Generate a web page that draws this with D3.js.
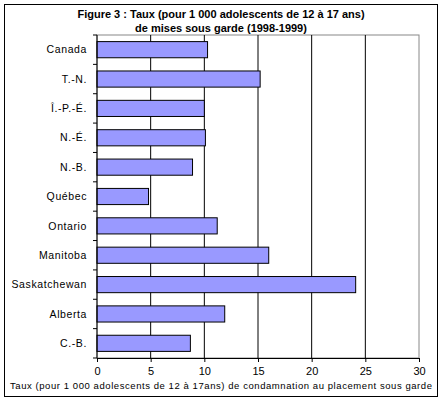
<!DOCTYPE html><html><head><meta charset="utf-8"><script src="https://cdn.jsdelivr.net/npm/d3@7"></script>
<style>body{margin:0;background:#fff}text{font-family:"Liberation Sans",Arial,sans-serif}</style></head><body><svg id="c" width="442" height="401"></svg><script>
const categories=["Canada","T.-N.","Î.-P.-É.","N.-É.","N.-B.","Québec","Ontario","Manitoba","Saskatchewan","Alberta","C.-B."];
const values=[10.3,15.2,10.0,10.1,8.9,4.8,11.2,16.0,24.1,11.9,8.7];
const xTicks=[0,5,10,15,20,25,30];
const svg=d3.select("#c");
svg.append("rect").attr("x",4.5).attr("y",4.5).attr("width",433).attr("height",392).attr("fill","#fff").attr("stroke","#000");
const L=97,R=419,T=35,B=358;
const x=d3.scaleLinear().domain([0,30]).range([L,R]);
const y=d3.scaleBand().domain(categories).range([T,B]).paddingInner(0.45).paddingOuter(0.225);
svg.append("rect").attr("x",L).attr("y",T).attr("width",R-L).attr("height",B-T).attr("fill","none").attr("stroke","#888");
svg.selectAll(".g").data(xTicks.slice(1,-1)).enter().append("line").attr("x1",d=>x(d)).attr("x2",d=>x(d)).attr("y1",T).attr("y2",B).attr("stroke","#000");
svg.selectAll(".b").data(values).enter().append("rect").attr("x",L).attr("y",(d,i)=>y(categories[i])).attr("width",d=>x(d)-L).attr("height",y.bandwidth()).attr("fill","#9999FF").attr("stroke","#000");
const xa=svg.append("g").attr("transform",`translate(0,${B})`).call(d3.axisBottom(x).tickValues(xTicks).tickSize(4).tickSizeOuter(0));
xa.select(".domain").attr("stroke","#000");xa.selectAll("text").attr("font-size",11).attr("dy","0.9em");
const step=(B-T)/categories.length;
const ya=svg.append("g").attr("transform",`translate(${L},0)`);
ya.append("line").attr("x1",0).attr("x2",0).attr("y1",T).attr("y2",B).attr("stroke","#000");
d3.range(categories.length+1).forEach(i=>ya.append("line").attr("x1",-4).attr("x2",0).attr("y1",T+i*step).attr("y2",T+i*step).attr("stroke","#000"));
ya.selectAll("text").data(categories).enter().append("text").attr("x",-10).attr("y",d=>y(d)+y.bandwidth()/2).attr("dy","0.35em").attr("text-anchor","end").attr("font-size",10.5).attr("letter-spacing","0.6").text(d=>d);
svg.append("text").attr("x",221).attr("y",18).attr("text-anchor","middle").attr("font-size",11).attr("font-weight","bold").text("Figure 3 : Taux (pour 1 000 adolescents de 12 à 17 ans)");
svg.append("text").attr("x",221).attr("y",32).attr("text-anchor","middle").attr("font-size",11).attr("font-weight","bold").text("de mises sous garde (1998-1999)");
svg.append("text").attr("x",221).attr("y",389).attr("text-anchor","middle").attr("font-size",9.5).attr("textLength",422).text("Taux (pour 1 000 adolescents de 12 à 17ans) de condamnation au placement sous garde");
</script></body></html>
